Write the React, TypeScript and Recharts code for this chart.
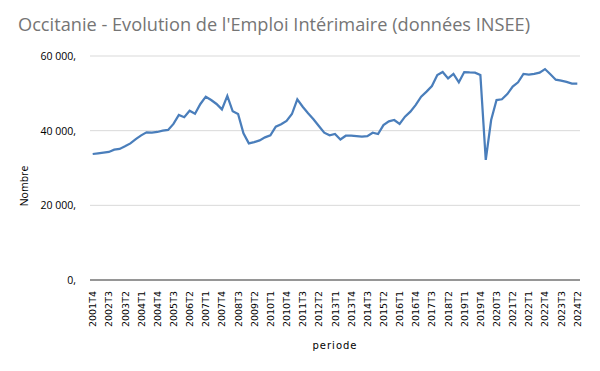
import React from "react";
import { LineChart, Line, XAxis, YAxis, CartesianGrid } from "recharts";

const periods: string[] = [
  "2001T4",
  "2002T1", "2002T2", "2002T3", "2002T4",
  "2003T1", "2003T2", "2003T3", "2003T4",
  "2004T1", "2004T2", "2004T3", "2004T4",
  "2005T1", "2005T2", "2005T3", "2005T4",
  "2006T1", "2006T2", "2006T3", "2006T4",
  "2007T1", "2007T2", "2007T3", "2007T4",
  "2008T1", "2008T2", "2008T3", "2008T4",
  "2009T1", "2009T2", "2009T3", "2009T4",
  "2010T1", "2010T2", "2010T3", "2010T4",
  "2011T1", "2011T2", "2011T3", "2011T4",
  "2012T1", "2012T2", "2012T3", "2012T4",
  "2013T1", "2013T2", "2013T3", "2013T4",
  "2014T1", "2014T2", "2014T3", "2014T4",
  "2015T1", "2015T2", "2015T3", "2015T4",
  "2016T1", "2016T2", "2016T3", "2016T4",
  "2017T1", "2017T2", "2017T3", "2017T4",
  "2018T1", "2018T2", "2018T3", "2018T4",
  "2019T1", "2019T2", "2019T3", "2019T4",
  "2020T1", "2020T2", "2020T3", "2020T4",
  "2021T1", "2021T2", "2021T3", "2021T4",
  "2022T1", "2022T2", "2022T3", "2022T4",
  "2023T1", "2023T2", "2023T3", "2023T4",
  "2024T1", "2024T2",
];

const emploi: number[] = [
  33750, 33930, 34100, 34300, 34900, 35100, 35800, 36600, 37750, 38750,
  39550, 39450, 39650, 40000, 40200, 41800, 44200, 43600, 45350, 44550,
  47150, 49100, 48200, 47150, 45700, 49300, 45200, 44450, 39300, 36600,
  36950, 37400, 38200, 38750, 41050, 41700, 42600, 44450, 48400, 46400,
  44650, 43050, 41250, 39450, 38750, 39100, 37650, 38650, 38650, 38550,
  38400, 38550, 39450, 39100, 41500, 42500, 42850, 41800, 43750, 45100,
  46900, 49100, 50450, 51950, 54900, 55700, 54000, 55200, 52950, 55700,
  55600, 55550, 54900, 32150, 42850, 48200, 48400, 49800, 51800, 52950,
  55200, 55000, 55200, 55550, 56500, 55100, 53650, 53400, 53050, 52600,
  52600,
];

const yTicks: number[] = [0, 20000, 40000, 60000];

const title = "Occitanie - Evolution de l'Emploi Intérimaire (données INSEE)";
const yTitle = "Nombre";
const xTitle = "periode";

const data = periods.map((p, i) => ({ periode: p, value: emploi[i] }));

const fmtY = (v: number) =>
  v === 0 ? "0," : `${Math.floor(v / 1000)} ${String(v % 1000).padStart(3, "0")},`;

const XTick = (props: any) => {
  const { x, y, payload } = props;
  return (
    <text
      x={0}
      y={0}
      transform={`translate(${x + 3.5},${y + 3}) rotate(-90)`}
      textAnchor="end"
      fontFamily="DejaVu Sans"
      fontSize={9.5}
      fill="#000"
    >
      {payload.value}
    </text>
  );
};

const YTick = (props: any) => {
  const { x, y, payload } = props;
  return (
    <text
      x={x}
      y={y + 4}
      textAnchor="end"
      fontFamily="Open Sans"
      fontSize={10.5}
      fill="#000"
      style={{ whiteSpace: "pre" }}
    >
      {fmtY(payload.value)}
    </text>
  );
};

export default function App() {
  return (
    <div style={{ position: "fixed", left: 0, top: 0, width: 600, height: 371, background: "#fff" }}>
      <div
        style={{
          position: "absolute",
          left: 18,
          top: 12,
          fontFamily: "Open Sans",
          fontSize: 18.2,
          color: "#757575",
          whiteSpace: "nowrap",
        }}
      >
        {title}
      </div>
      <div
        style={{
          position: "absolute",
          left: 24,
          top: 186,
          transform: "translate(-50%, -50%) rotate(-90deg)",
          fontFamily: "Open Sans",
          fontSize: 10.5,
          color: "#000",
          whiteSpace: "nowrap",
        }}
      >
        {yTitle}
      </div>
      <div
        style={{
          position: "absolute",
          left: 335,
          top: 345,
          transform: "translate(-50%, -50%)",
          fontFamily: "DejaVu Sans",
          fontSize: 10,
          letterSpacing: 1,
          color: "#000",
          whiteSpace: "nowrap",
        }}
      >
        {xTitle}
      </div>
      <LineChart
        width={600}
        height={371}
        data={data}
        margin={{ top: 56, right: 20, left: 0, bottom: 0 }}
        style={{ position: "absolute", left: 0, top: 0 }}
      >
        <CartesianGrid vertical={false} stroke="#d9d9d9" strokeWidth={1} />
        <XAxis
          dataKey="periode"
          interval={2}
          height={91}
          padding={{ left: 2.7, right: 2.7 }}
          tick={<XTick />}
          tickLine={false}
          axisLine={{ stroke: "#404040", strokeWidth: 1 }}
        />
        <YAxis
          domain={[0, 60000]}
          ticks={yTicks}
          width={90}
          tick={<YTick />}
          tickLine={false}
          axisLine={false}
          tickMargin={8}
        />
        <Line
          type="linear"
          dataKey="value"
          stroke="#4a7ebb"
          strokeWidth={2.25}
          dot={false}
          isAnimationActive={false}
        />
      </LineChart>
    </div>
  );
}
